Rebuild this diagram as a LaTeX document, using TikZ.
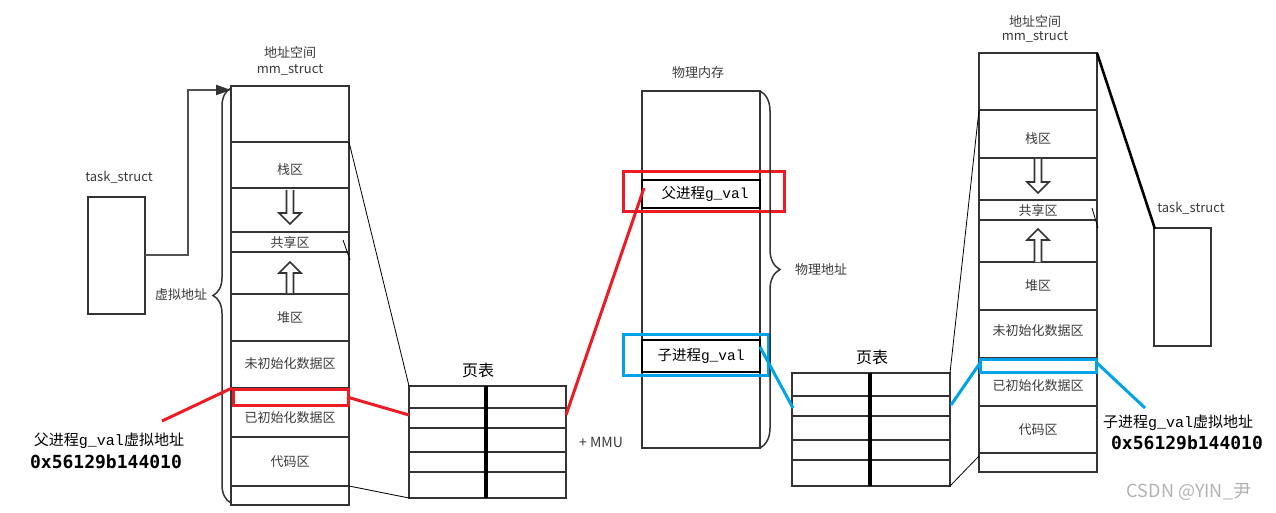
\documentclass[tikz,border=0pt]{standalone}
\usepackage{fontspec}
\setmainfont{Noto Sans CJK SC}
\newfontfamily\monof{Liberation Mono}
\newfontfamily\addrf{DejaVu Sans Mono}
\usetikzlibrary{arrows.meta,decorations.pathreplacing}
\definecolor{linec}{HTML}{333333}
\definecolor{txt}{HTML}{3A3A3A}
\definecolor{redc}{HTML}{ED1C24}
\definecolor{bluec}{HTML}{00A2E8}
\tikzset{
  box/.style={draw=linec,line width=2pt},
  lbl/.style={font=\fontsize{13}{15}\selectfont,text=txt,inner sep=0pt},
  big/.style={font=\fontsize{16}{18}\selectfont,text=black,inner sep=0pt},
  gv/.style={font=\fontsize{14.5}{16}\selectfont,text=black,inner sep=0pt},
  vaddr/.style={font=\fontsize{15}{17}\selectfont,text=black,inner sep=0pt},
  addr/.style={font=\addrf\bfseries\fontsize{18}{20}\selectfont,text=black,inner sep=0pt},
  thinl/.style={draw=black,line width=0.8pt},
  redl/.style={draw=redc,line width=3pt},
  bluel/.style={draw=bluec,line width=3pt},
  harrow/.style={draw=linec,line width=1.6pt,fill=white,line join=miter},
  bracest/.style={draw=linec,line width=1.5pt,decorate},
}
\newcommand{\hollowarr}[4]{\draw[harrow] (#1-3.5,#2) -- (#1-3.5,#3) -- (#1-11,#3) -- (#1,#4) -- (#1+11,#3) -- (#1+3.5,#3) -- (#1+3.5,#2);}
\begin{document}
\begin{tikzpicture}[x=1pt,y=-1pt]
\useasboundingbox (0,0) rectangle (1276,513);

% ---------- left address space ----------
\node[lbl] (ltitle1) at (290,53) {地址空间};
\node[lbl] (ltitle2) at (290,70) {mm\_struct};
\draw[box] (231,86) rectangle (349,505);
\foreach \y in {142,188,232,252,294,341,388,437,486} \draw[box] (231,\y) -- (349,\y);
\node[lbl] (lstack) at (290,170) {栈区};
\node[lbl] (lshare) at (290,243) {共享区};
\node[lbl] (lheap) at (290,318) {堆区};
\node[lbl] (lbss) at (290,364) {未初始化数据区};
\node[lbl] (ldata) at (290,418) {已初始化数据区};
\node[lbl] (lcode) at (290,462) {代码区};
\hollowarr{290}{190}{213}{224}
\hollowarr{290}{293}{273}{262}
\draw[thinl] (343,240) -- (350,260);
\coordinate (lstackR) at (349,142);
\coordinate (lbotR) at (349,486);
\draw[redl] (233,389) rectangle (348,405);
\coordinate (lredL) at (232,388);
\coordinate (lredR) at (347,397);

% brace virtual address
\draw[bracest,decoration={brace,amplitude=18pt}] (231,503) -- (231,88);
\node[lbl] (lvirt) at (181,295) {虚拟地址};

% left task_struct
\node[lbl] (ltask) at (119,177) {task\_struct};
\draw[box] (88,197) rectangle (145,314);
\coordinate (ltaskR) at (145,255);
\coordinate (lmmTop) at (231,90);
\draw[draw=linec!85,line width=2pt,-{Triangle[length=15pt,width=10pt,color=linec,fill=linec]}] (ltaskR) -- (188,255) -- (188,90) -- (lmmTop);

% parent virtual address label
\node[vaddr] (pva) at (109,441) {父进程{\monof g\_val}虚拟地址};
\node[addr] (paddr) at (106,462) {0x56129b144010};
\coordinate (pvaTip) at (162,421);
\draw[redl] (pvaTip) -- (lredL);

% ---------- page table 1 ----------
\node[big] (pt1) at (478,370) {页表};
\draw[box] (409,386) rectangle (566,498);
\foreach \y in {408,428,452,472} \draw[box] (409,\y) -- (566,\y);
\draw[draw=black,line width=3.5pt] (486,386) -- (486,498);
\coordinate (pt1TL) at (409,386);
\coordinate (pt1BL) at (409,498);
\coordinate (pt1L) at (409,415);
\coordinate (pt1R) at (566,415);
\node[lbl,font=\fontsize{14}{16}\selectfont] (mmu) at (601,442) {+ MMU};
\draw[thinl] (lstackR) -- (pt1TL);
\draw[thinl] (lbotR) -- (pt1BL);
\draw[redl] (lredR) -- (pt1L);

% ---------- physical memory ----------
\node[lbl] (phys) at (698,73) {物理内存};
\draw[box] (642,91) rectangle (760,448);
\draw[draw=black,line width=1.4pt] (642,180) rectangle (760,208);
\draw[draw=black,line width=1.4pt] (642,340) rectangle (760,372);
\node[gv] (pgv) at (705,194) {父进程{\monof g\_val}};
\node[gv] (cgv) at (701,356) {子进程{\monof g\_val}};
\draw[redl] (623,172) rectangle (784,211);
\draw[bluel] (623,334) rectangle (768,375);
\coordinate (pgvL) at (644,188);
\coordinate (cgvR) at (760,347);
\draw[redl] (pt1R) -- (pgvL);
\draw[bracest,decoration={brace,amplitude=20pt}] (760,91) -- (760,448);
\node[lbl] (physaddr) at (821,270) {物理地址};

% ---------- page table 2 ----------
\node[big] (pt2) at (872,357) {页表};
\draw[box] (792,373) rectangle (950,486);
\foreach \y in {396,416,440,460} \draw[box] (792,\y) -- (950,\y);
\draw[draw=black,line width=3.5pt] (870,373) -- (870,486);
\coordinate (pt2L) at (793,408);
\coordinate (pt2R) at (951,405);
\coordinate (pt2TR) at (950,373);
\coordinate (pt2BR) at (950,486);
\draw[bluel] (cgvR) -- (pt2L);

% ---------- right address space ----------
\node[lbl] (rtitle1) at (1035,22) {地址空间};
\node[lbl] (rtitle2) at (1035,37) {mm\_struct};
\draw[box] (979,53) rectangle (1097,472);
\foreach \y in {110,158,200,220,262,310,358,406,453} \draw[box] (979,\y) -- (1097,\y);
\node[lbl] (rstack) at (1038,139) {栈区};
\node[lbl] (rshare) at (1038,211) {共享区};
\node[lbl] (rheap) at (1038,286) {堆区};
\node[lbl] (rbss) at (1038,331) {未初始化数据区};
\node[lbl] (rdata) at (1038,386) {已初始化数据区};
\node[lbl] (rcode) at (1038,430) {代码区};
\hollowarr{1038}{159}{182}{193}
\hollowarr{1038}{262}{240}{229}
\draw[thinl] (1092,208) -- (1098,228);
\draw[bluel] (980,359) rectangle (1096,372);
\coordinate (rstackL) at (979,110);
\coordinate (rbotL) at (979,456);
\coordinate (rblueL) at (980,363);
\coordinate (rblueR) at (1097,363);
\coordinate (rtopR) at (1097,53);
\draw[thinl] (rstackL) -- (pt2TR);
\draw[thinl] (rbotL) -- (pt2BR);
\draw[bluel] (pt2R) -- (rblueL);

% right task_struct
\node[lbl] (rtask) at (1191,208) {task\_struct};
\draw[box] (1154,228) rectangle (1211,346);
\coordinate (rtaskTL) at (1155,229);
\draw[draw=black,line width=2.6pt] (rtopR) -- (rtaskTL);

% child virtual address label
\coordinate (cvaTip) at (1145,408);
\draw[bluel] (rblueR) -- (cvaTip);
\node[vaddr] (cva) at (1178,423) {子进程{\monof g\_val}虚拟地址};
\node[addr] (caddr) at (1187,443) {0x56129b144010};

% watermark
\node[font=\fontsize{18}{20}\selectfont,text=black!30,inner sep=0pt] (wm) at (1189,492) {CSDN @YIN\_尹};
\end{tikzpicture}
\end{document}
